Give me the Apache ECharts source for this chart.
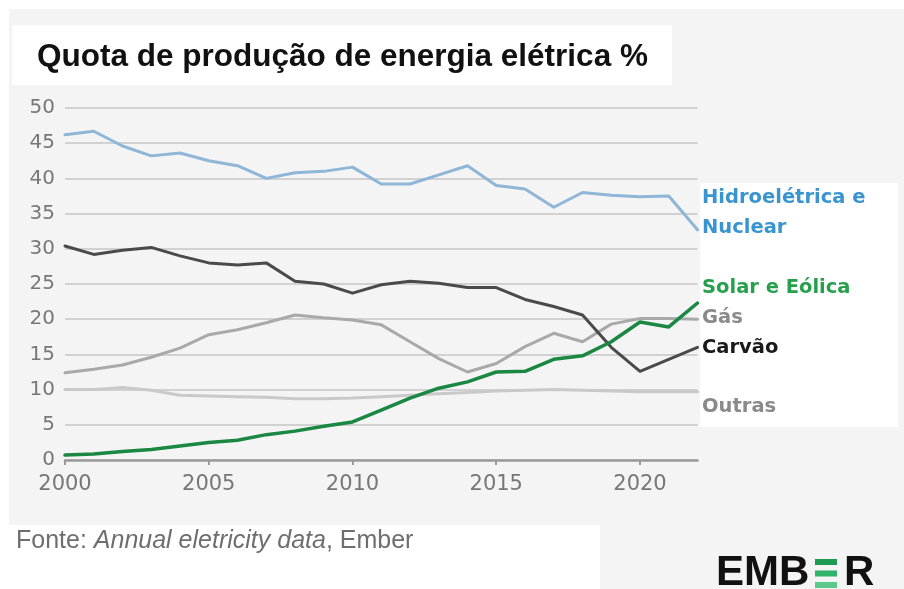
<!DOCTYPE html>
<html><head><meta charset="utf-8">
<script src="https://cdn.jsdelivr.net/npm/echarts@6/dist/echarts.min.js"></script>
<style>html,body{margin:0;padding:0;background:#fff}#c{width:904px;height:589px}</style>
</head><body><div id="c"></div>
<script>
const years = [2000,2001,2002,2003,2004,2005,2006,2007,2008,2009,2010,2011,2012,2013,2014,2015,2016,2017,2018,2019,2020,2021,2022];
const hydroNuclear = [46.2,46.7,44.6,43.2,43.6,42.5,41.8,40.0,40.8,41.0,41.6,39.2,39.2,40.5,41.8,39.0,38.5,35.9,38.0,37.6,37.4,37.5,32.7];
const coal = [30.4,29.2,29.8,30.2,29.0,28.0,27.7,28.0,25.4,25.0,23.7,24.9,25.4,25.1,24.5,24.5,22.8,21.8,20.6,16.0,12.6,14.3,16.0];
const gas = [12.4,12.9,13.5,14.6,15.9,17.8,18.5,19.5,20.6,20.2,19.9,19.2,16.8,14.4,12.5,13.7,16.1,18.0,16.8,19.3,20.1,20.1,20.0];
const others = [10.0,10.0,10.3,9.9,9.2,9.1,9.0,8.9,8.7,8.7,8.8,9.0,9.2,9.4,9.6,9.8,9.9,10.0,9.9,9.8,9.7,9.7,9.7];
const solarWind = [0.7,0.85,1.2,1.5,2.0,2.5,2.8,3.6,4.1,4.8,5.4,7.1,8.8,10.2,11.1,12.5,12.6,14.3,14.8,16.8,19.6,18.9,22.3];
const xTicks = [2000,2005,2010,2015,2020];
const title = 'Quota de produção de energia elétrica %';
const labels = [
  {text:'Hidroelétrica e', y:198, color:'#3a94d0'},
  {text:'Nuclear', y:228, color:'#3a94d0'},
  {text:'Solar e Eólica', y:288, color:'#27a04e'},
  {text:'Gás', y:318, color:'#8a8a8a'},
  {text:'Carvão', y:348, color:'#1a1a1a'},
  {text:'Outras', y:407, color:'#8a8a8a'}
];

const pair = arr => years.map((y,i)=>[y, arr[i]]);
const chart = echarts.init(document.getElementById('c'), null, {renderer:'canvas'});
const lineSeries = (name, data, color, w, z) => ({
  name, type:'line', data: pair(data), symbol:'none', smooth:false, z,
  lineStyle:{color, width:w, cap:'round', join:'round'}, emphasis:{disabled:true}, silent:true
});
const graphics = [
  {type:'rect', shape:{x:9,y:9,width:895,height:580}, style:{fill:'#f4f4f4'}, z:-10},
  {type:'rect', shape:{x:12,y:25,width:660,height:60}, style:{fill:'#ffffff'}, z:-9},
  {type:'rect', shape:{x:700,y:183,width:198,height:244}, style:{fill:'#ffffff'}, z:-9},
  {type:'rect', shape:{x:8,y:525,width:592,height:64}, style:{fill:'#ffffff'}, z:-9},
  {type:'text', x:37, y:57, style:{text:title, font:'bold 31.5px "Liberation Sans", Arial, sans-serif', fill:'#111', verticalAlign:'middle'}, z:5},
  {type:'text', x:16, y:541, style:{
    text:'{a|Fonte: }{b|Annual eletricity data}{a|, Ember}',
    verticalAlign:'middle',
    rich:{
      a:{font:'25px "Liberation Sans", Arial, sans-serif', fill:'#6e6e6e'},
      b:{font:'italic 25px "Liberation Sans", Arial, sans-serif', fill:'#6e6e6e'}
    }}, z:5},
  {type:'text', x:716, y:573, style:{text:'EMB', font:'bold 42px "Liberation Sans", Arial, sans-serif', fill:'#111', verticalAlign:'middle'}, z:5},
  {type:'rect', shape:{x:815,y:559,width:22,height:6}, style:{fill:'#1f9a52'}, z:5},
  {type:'rect', shape:{x:815,y:570.5,width:22,height:6}, style:{fill:'#2fb36a'}, z:5},
  {type:'rect', shape:{x:815,y:582,width:22,height:6}, style:{fill:'#5cc98a'}, z:5},
  {type:'text', x:844, y:573, style:{text:'R', font:'bold 42px "Liberation Sans", Arial, sans-serif', fill:'#111', verticalAlign:'middle'}, z:5}
];
labels.forEach(l => graphics.push({type:'text', x:702, y:l.y, style:{text:l.text, font:'bold 19.5px "DejaVu Sans", sans-serif', fill:l.color, verticalAlign:'middle'}, z:5}));

chart.setOption({
  animation:false,
  backgroundColor:'transparent',
  grid:{left:65, right:206.5, top:108, bottom:129, containLabel:false},
  xAxis:{type:'value', min:2000, max:2022, interval:5,
    axisLine:{show:true, lineStyle:{color:'#9a9a9a', width:2.5}},
    axisTick:{show:true, length:5, lineStyle:{color:'#9a9a9a', width:2}, customValues:xTicks},
    axisLabel:{customValues:xTicks, formatter: v => String(v), margin:14, color:'#777', fontFamily:'DejaVu Sans', fontSize:21},
    splitLine:{show:false}},
  yAxis:{type:'value', min:0, max:50, interval:5,
    axisLine:{show:false}, axisTick:{show:false},
    axisLabel:{margin:10, color:'#777', fontFamily:'DejaVu Sans', fontSize:20},
    splitLine:{show:true, lineStyle:{color:'#c6c6c6', width:1.5}}},
  graphic: graphics,
  series:[
    lineSeries('Outras', others, '#c9c9c9', 3, 2),
    lineSeries('Gás', gas, '#a9a9a9', 3, 3),
    lineSeries('Hidroelétrica e Nuclear', hydroNuclear, '#8fb6d6', 3, 4),
    lineSeries('Carvão', coal, '#4a4a4a', 3, 5),
    lineSeries('Solar e Eólica', solarWind, '#1a8743', 3.5, 6)
  ]
});
</script></body></html>
